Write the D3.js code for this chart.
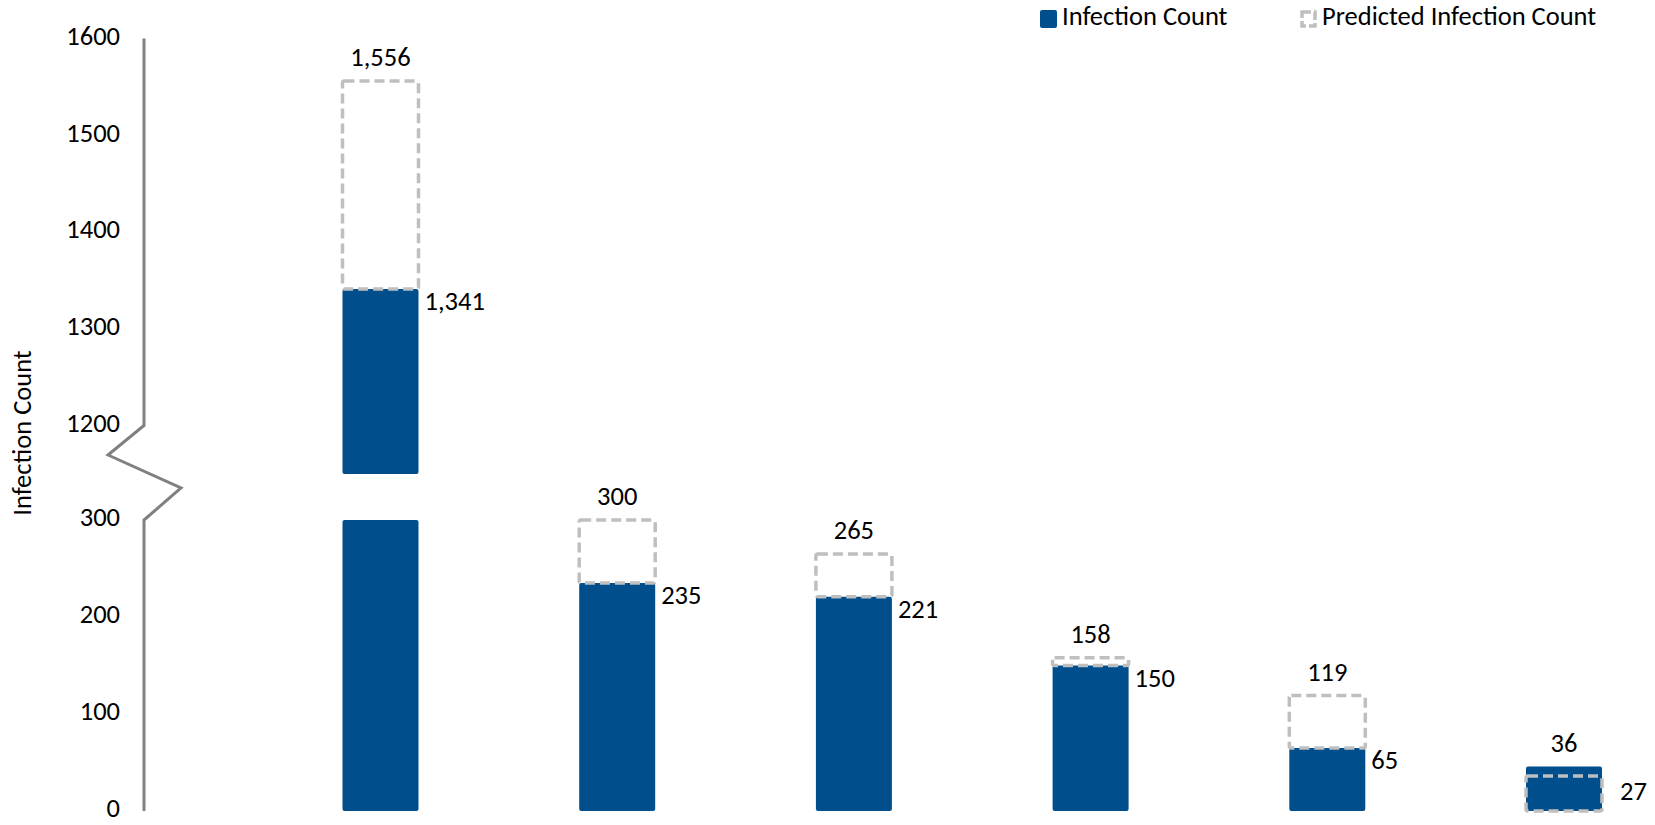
<!DOCTYPE html>
<html>
<head>
<meta charset="utf-8">
<script src="https://d3js.org/d3.v7.min.js"></script>
<style>
  body { margin: 0; background: #fff; }
  text { font-family: Carlito, Calibri, Lato, sans-serif; fill: #000; }
</style>
</head>
<body>
<div id="chart"></div>
<script>
var width = 1655, height = 825;

// data
var categories = ["c1", "c2", "c3", "c4", "c5", "c6"];
var infection = [1341, 235, 221, 150, 65, 46];
var infectionLabels = ["1,341", "235", "221", "150", "65", "27"];
var predicted = [1556, 300, 265, 158, 119, 36];
var lowTicks = [0, 100, 200, 300];
var highTicks = [1200, 1300, 1400, 1500, 1600];

var breakTop = 300, breakBottom = 1150;
var blue = "#004f8c", grey = "#bfbfbf", axisGrey = "#808080";
var fs = 26.5;

var svg = d3.select("#chart").append("svg")
  .attr("width", width)
  .attr("height", height);

var x = d3.scalePoint().domain(categories).range([380.5, 1564]);
var barW = 76;

var yLo = d3.scaleLinear().domain([0, 300]).range([811, 520]);
var yHi = d3.scaleLinear().domain([1200, 1600]).range([425.5, 38.5]);
function y(v) { return v <= breakTop ? yLo(v) : yHi(v); }

var data = categories.map(function(c, i) {
  return { cat: c, actual: infection[i], label: infectionLabels[i], pred: predicted[i] };
});

// blue bars (split across the break when needed)
var segs = [];
data.forEach(function(d) {
  if (d.actual > breakTop) {
    segs.push({ cat: d.cat, y0: 0, y1: breakTop });
    segs.push({ cat: d.cat, y0: breakBottom, y1: d.actual });
  } else {
    segs.push({ cat: d.cat, y0: 0, y1: d.actual });
  }
});

svg.append("g").selectAll("rect")
  .data(segs).enter().append("rect")
  .attr("x", function(d) { return x(d.cat) - barW / 2; })
  .attr("width", barW)
  .attr("y", function(d) { return y(d.y1); })
  .attr("height", function(d) { return y(d.y0) - y(d.y1); })
  .attr("rx", 2)
  .attr("fill", blue);

// dashed predicted boxes
svg.append("g").selectAll("rect")
  .data(data).enter().append("rect")
  .attr("x", function(d) { return x(d.cat) - barW / 2; })
  .attr("width", barW)
  .attr("y", function(d) { return y(d.pred); })
  .attr("height", function(d) {
    var lo = d.pred > d.actual ? d.actual : 0;
    return y(lo) - y(d.pred);
  })
  .attr("rx", 2)
  .attr("fill", "none")
  .attr("stroke", grey)
  .attr("stroke-width", 3.5)
  .attr("stroke-dasharray", "10,5");

// labels
var fmt = d3.format(",");
svg.append("g").selectAll("text")
  .data(data).enter().append("text")
  .attr("x", function(d) { return x(d.cat); })
  .attr("y", function(d) { return y(Math.max(d.pred, d.actual)) - 21; })
  .attr("text-anchor", "middle")
  .attr("dominant-baseline", "middle")
  .attr("font-size", fs)
  .text(function(d) { return fmt(d.pred); });

svg.append("g").selectAll("text")
  .data(data).enter().append("text")
  .attr("x", function(d) { return x(d.cat) + barW / 2 + (d.pred > d.actual ? 6 : 18); })
  .attr("y", function(d) {
    return d.pred > d.actual ? y(d.actual) + 15 : (y(d.pred) + y(0)) / 2;
  })
  .attr("dominant-baseline", "middle")
  .attr("font-size", fs)
  .text(function(d) { return d.label; });

// axis line with break
var ax = 144;
svg.append("path")
  .attr("d", "M" + ax + "," + yHi(1600) + "V" + yHi(1200) +
    "L108,455L181,488L" + ax + "," + yLo(300) + "V" + yLo(0))
  .attr("fill", "none")
  .attr("stroke", axisGrey)
  .attr("stroke-width", 3);

var tickG = svg.append("g").attr("font-size", fs);
tickG.selectAll("text.lo").data(lowTicks).enter().append("text")
  .attr("x", 120).attr("y", function(d) { return yLo(d); })
  .attr("text-anchor", "end").attr("dominant-baseline", "middle")
  .text(function(d) { return d; });
tickG.selectAll("text.hi").data(highTicks).enter().append("text")
  .attr("x", 120).attr("y", function(d) { return yHi(d); })
  .attr("text-anchor", "end").attr("dominant-baseline", "middle")
  .text(function(d) { return d; });

svg.append("text")
  .attr("transform", "translate(25,433) rotate(-90)")
  .attr("text-anchor", "middle")
  .attr("dominant-baseline", "middle")
  .attr("font-size", fs)
  .text("Infection Count");

// legend
var leg = svg.append("g");
leg.append("rect").attr("x", 1040).attr("y", 10).attr("width", 17).attr("height", 18)
  .attr("rx", 2).attr("fill", blue);
leg.append("text").attr("x", 1062).attr("y", 19).attr("dominant-baseline", "middle")
  .attr("font-size", fs).text("Infection Count");
leg.append("rect").attr("x", 1302).attr("y", 12).attr("width", 13).attr("height", 14)
  .attr("fill", "none").attr("stroke", grey).attr("stroke-width", 3.5)
  .attr("stroke-dasharray", "9,3");
leg.append("text").attr("x", 1322).attr("y", 19).attr("dominant-baseline", "middle")
  .attr("font-size", fs).text("Predicted Infection Count");
</script>
</body>
</html>
